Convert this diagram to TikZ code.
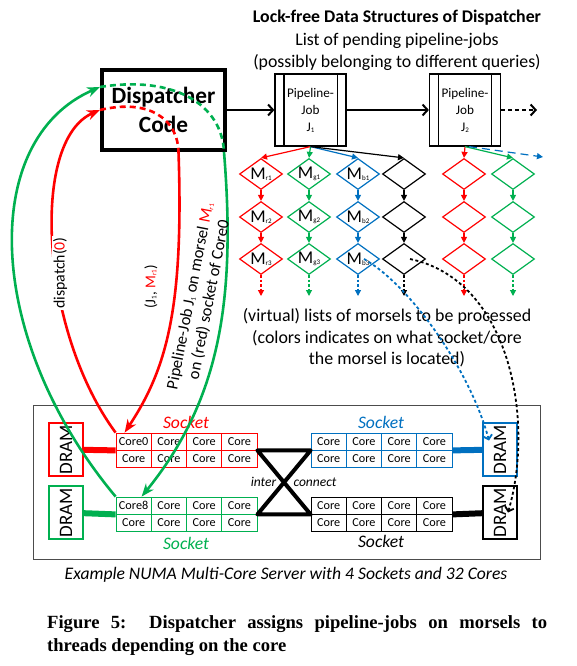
\documentclass[tikz,border=0pt]{standalone}
\usepackage{fontspec}
\setmainfont{Carlito}
\newfontfamily\timesfont{Liberation Serif}
\usepackage{xcolor}
\usepackage{tikz}
\usetikzlibrary{arrows.meta}
\usetikzlibrary{positioning}
\usetikzlibrary{shapes}
\usetikzlibrary{calc}
\definecolor{sred}{HTML}{FF0000}
\definecolor{sgreen}{HTML}{00B050}
\definecolor{sblue}{HTML}{0070C0}
\newcommand{\lowsub}[1]{\raisebox{-1pt}{\fontsize{7}{7}\selectfont #1}}
\newcommand{\morselname}[1]{M\raisebox{-1.5pt}{\fontsize{7}{7}\selectfont #1}}
\tikzstyle{morsel}=[draw,diamond,minimum width=43pt,minimum height=31pt,inner sep=0pt,line width=1.2pt,font=\fontsize{18}{18}\selectfont]
\tikzstyle{jobbox}=[draw,line width=1.2pt,minimum width=71pt,minimum height=72pt,align=center,font=\fontsize{13.2}{17}\selectfont]
\tikzstyle{cell}=[draw,line width=0.8pt,minimum width=35.25pt,minimum height=17pt,inner sep=0pt,font=\fontsize{12.2}{12.2}\selectfont]
\tikzstyle{dram}=[draw,line width=2pt,rotate=90,minimum width=53pt,minimum height=34pt,inner sep=0pt,font=\fontsize{19}{19}\selectfont]

\begin{document}
\begin{tikzpicture}[x=1pt,y=-1pt,
  memlink/.style={line width=6pt},
  sockname/.style={font=\fontsize{17.6}{17.6}\selectfont\itshape},
  mainarrow/.style={line width=2pt,-{Straight Barb[length=5pt,width=11pt]}},
  callarrow/.style={line width=2.6pt,-{Stealth[length=13pt,width=10pt]}},
  calldash/.style={line width=2.6pt,dash pattern=on 6pt off 4pt},
  nextarrow/.style={line width=1.2pt,-{Triangle[length=6pt,width=6pt]}},
  findarrow/.style={line width=1.8pt,dash pattern=on 3pt off 2.5pt,-{Straight Barb[length=4pt,width=9pt]}}]
\useasboundingbox (0,0) rectangle (576,666);

% server frame
\node[draw=black!70,line width=0.8pt,minimum width=507pt,minimum height=154pt] (srv) at (286.5,482) {};
\node[font=\fontsize{17.6}{17.6}\selectfont\itshape] (srvcap) at (286,575) {Example NUMA Multi-Core Server with 4 Sockets and 32 Cores};

% dispatcher and job list
\node[draw,line width=4pt,minimum width=123pt,minimum height=80pt,align=center,font=\fontsize{23.3}{29}\selectfont\bfseries] (disp) at (163.5,110) {Dispatcher\\Code};
\node[font=\fontsize{17.8}{22}\selectfont\bfseries] (ttl) at (397,18) {Lock-free Data Structures of Dispatcher};
\node[align=center,font=\fontsize{17.8}{22}\selectfont,below=0pt of ttl] (jlist) {List of pending pipeline-jobs\\(possibly belonging to different queries)};
\node[jobbox] (j1) at (310.5,110) {Pipeline-\\Job\\J\lowsub{1}};
\node[jobbox] (j2) at (465,110) {Pipeline-\\Job\\J\lowsub{2}};
\foreach \j in {j1,j2} {
  \draw[line width=1.2pt] ([xshift=9.5pt]\j.north west) -- ([xshift=9.5pt]\j.south west);
  \draw[line width=1.2pt] ([xshift=-9.5pt]\j.north east) -- ([xshift=-9.5pt]\j.south east);
}
\coordinate (jend) at (537,110);
\draw[mainarrow] (disp) -- (j1);
\draw[mainarrow] (j1) -- (j2);
\draw[mainarrow,dash pattern=on 4pt off 3pt] (j2) -- (jend);

% morsel lists
\foreach \c/\xx/\col/\lab in {r/261/sred/1, g/309/sgreen/1, b/358/sblue/1, k/404/black/0, s/464/sred/0, t/513/sgreen/0} {
  \foreach \n/\yy in {1/174,2/217,3/259}
    \node[morsel,draw=\col] (m\c\n) at (\xx,\yy) {\makebox[0pt]{\ifnum\lab=1 \morselname{\c\n}\fi}};
  \draw[nextarrow,\col] (m\c1) -- (m\c2);
  \draw[nextarrow,\col] (m\c2) -- (m\c3);
  \coordinate (e\c) at (\xx,296);
  \draw[nextarrow,\col,dash pattern=on 2.5pt off 2pt] (m\c3) -- (e\c);
}
\foreach \c/\col in {r/sred,g/sgreen,b/sblue,k/black}
  \draw[nextarrow,\col] (j1.south) -- (m\c1.north);
\draw[nextarrow,sred] (j2.south) -- (ms1.north);
\draw[nextarrow,sgreen] (j2.south) -- (mt1.north);
\coordinate (jb) at (543,157);
\draw[nextarrow,sblue,dash pattern=on 8pt off 5pt] ([xshift=4pt]j2.south) -- (jb);
\node[align=center,font=\fontsize{17.9}{21.5}\selectfont] (vtxt) at (387,338) {(virtual) lists of morsels to be processed\\(colors indicates on what socket/core\\the morsel is located)};

% sockets
\foreach \s/\xo/\yo/\col/\first in {r/116/433/sred/Core0, g/116/497/sgreen/Core8, b/311/433/sblue/Core, k/311/497/black/Core}
  \foreach \i in {1,...,4}
    \foreach \j in {1,2}
      \node[cell,draw=\col] (\s-\i-\j) at ({\xo+35.25*(\i-0.5)},{\yo+17*(\j-0.5)}) {\ifnum\i\j=11 \first\else Core\fi};
\node[sockname,text=sred] (slr) at (186,422) {Socket};
\node[sockname,text=sgreen] (slg) at (186,543) {Socket};
\node[sockname,text=sblue] (slb) at (381,422) {Socket};
\node[sockname] (slk) at (381,541) {Socket};
\node[dram,draw=sred] (dr) at (66,449.5) {DRAM};
\node[dram,draw=sgreen] (dg) at (66,512.5) {DRAM};
\node[dram,draw=sblue] (db) at (500,449.5) {DRAM};
\node[dram] (dk) at (500,512.5) {DRAM};
\draw[memlink,sred] (dr) -- (r-1-1.south west);
\draw[memlink,sgreen] (dg) -- (g-1-1.south west);
\draw[memlink,sblue] (db) -- (b-4-1.south east);
\draw[memlink] (dk) -- (k-4-1.south east);
\draw[line width=4pt,line join=round] (r-4-1.south east) -- (b-1-1.south west) -- (g-4-1.south east) -- (k-1-1.south west) -- cycle;
\node[font=\fontsize{13.5}{13.5}\selectfont\itshape] (icl) at (263.5,482) {inter};
\node[font=\fontsize{13.5}{13.5}\selectfont\itshape] (icr) at (315,482) {connect};

% dispatch calls
\draw[callarrow,sgreen] (g-1-1.north west) .. controls (-15,340) and (-22,140) .. ([yshift=-19pt]disp.north west);
\draw[calldash,sgreen] ([yshift=-19pt]disp.north west) .. controls (175,75) and (222,105) .. ([xshift=-3pt]disp.south east);
\draw[callarrow,sgreen] ([xshift=-3pt]disp.south east) .. controls (236,300) and (220,400) .. ([xshift=8pt]g-1-1.north);
\draw[callarrow,sred] (r-1-1.north west) .. controls (40,330) and (30,140) .. ([yshift=-42pt]disp.north west);
\draw[calldash,sred] ([yshift=-42pt]disp.north west) .. controls (150,98) and (178,120) .. ([xshift=15pt]disp.south);
\draw[callarrow,sred] ([xshift=15pt]disp.south) .. controls (184,310) and (166,370) .. ([xshift=-9pt]r-1-1.north);
\node[rotate=90,fill=white,inner sep=1pt,font=\fontsize{15.8}{15.8}\selectfont] (lbd) at (60,273) {dispatch(\textcolor{sred}{0})};
\node[rotate=90,font=\fontsize{15}{15}\selectfont] (lbj) at (151,287) {(J\lowsub{1}, \textcolor{sred}{M\lowsub{r1}})};
\node[rotate=79,align=center,font=\fontsize{16.6}{19}\selectfont] (lbp) at (200,298) {Pipeline-Job J\lowsub{1} on morsel \textcolor{sred}{M\lowsub{r1}}\\on (red) socket of Core0};

% morsel locations
\draw[findarrow,sblue] ([xshift=6pt]mb3.center) .. controls (410,285) and (470,370) .. ($(db.center)+(-11,-9)$);
\draw[findarrow] ([xshift=6pt]mk3.center) .. controls (510,280) and (535,420) .. ($(dk.center)+(8,0)$);

% figure caption
\node[anchor=west,inner sep=0pt,font=\timesfont\bfseries\fontsize{18.6}{18.6}\selectfont] (fig1) at (47,624) {\makebox[500pt][s]{Figure 5:\ \ Dispatcher assigns pipeline-jobs on morsels to}};
\node[anchor=west,inner sep=0pt,font=\timesfont\bfseries\fontsize{18.6}{18.6}\selectfont] (fig2) at (47,647) {threads depending on the core};
\end{tikzpicture}
\end{document}
